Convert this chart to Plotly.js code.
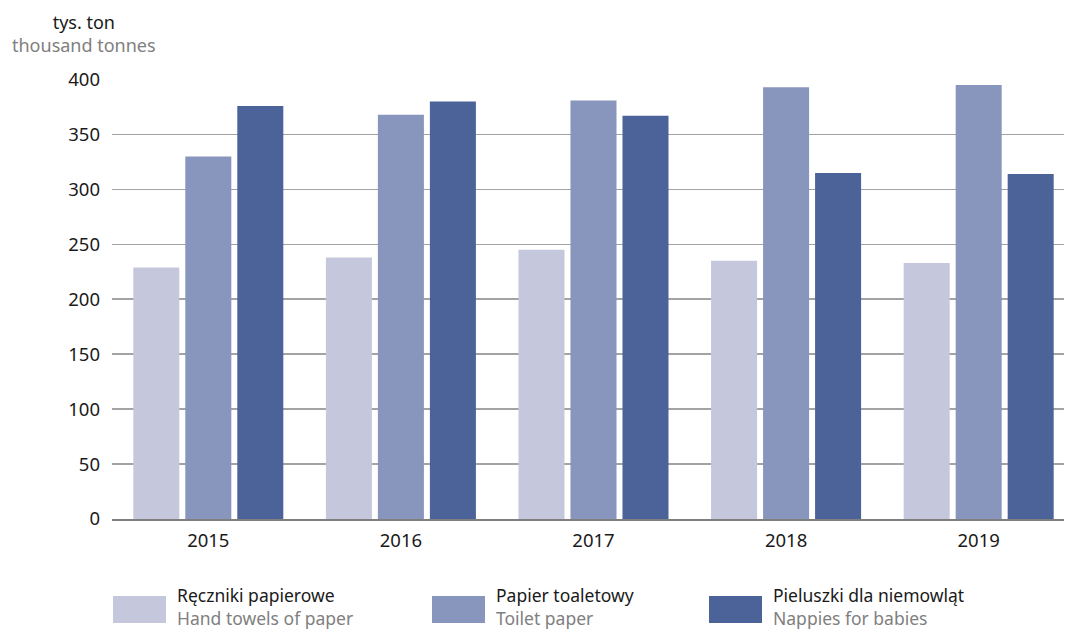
<!DOCTYPE html>
<html>
<head>
<meta charset="utf-8">
<script src="https://cdn.plot.ly/plotly-3.0.1.min.js"></script>
<style>html,body{margin:0;padding:0;background:#fff;}#chart{width:1072px;height:632px;}</style>
</head>
<body>
<div id="chart"></div>
<script>
const years = ['2015', '2016', '2017', '2018', '2019'];
const namesPl = ['Ręczniki papierowe', 'Papier toaletowy', 'Pieluszki dla niemowląt'];
const namesEn = ['Hand towels of paper', 'Toilet paper', 'Nappies for babies'];
const towels = [229, 238, 245, 235, 233];
const toilet = [330, 368, 381, 393, 395];
const nappies = [376, 380, 367, 315, 314];
const colors = ['#c5c8dc', '#8895bc', '#4b6399'];
const yTicks = [0, 50, 100, 150, 200, 250, 300, 350, 400];

const FONT = 'Noto Sans, Open Sans, sans-serif';
const series = [towels, toilet, nappies];
const traces = series.map((vals, i) => ({
  type: 'bar', x: years, y: vals, name: namesPl[i],
  marker: {color: colors[i]}, hoverinfo: 'skip'
}));

const legendX = [113, 432, 709];
const W = 1072, H = 632, L = 112, R = 8, T = 79, B = 113;
const pw = W - L - R, ph = H - T - B;
const px = v => (v - L) / pw;
const py = v => (H - B - v) / ph;
const shapes = [];
const annotations = [
  {xref: 'paper', yref: 'paper', x: px(84), y: py(33), xanchor: 'center', yanchor: 'middle',
   text: 'tys. ton<br><span style="color:#808080">thousand tonnes</span>', showarrow: false,
   font: {family: FONT, size: 18, color: '#1a1a1a'}}
];
legendX.forEach((lx, i) => {
  shapes.push({type: 'rect', xref: 'paper', yref: 'paper', x0: px(lx), x1: px(lx + 53),
    y0: py(623), y1: py(596), fillcolor: colors[i], line: {width: 0}});
  annotations.push({xref: 'paper', yref: 'paper', x: px(lx + 63), y: py(606), xanchor: 'left', yanchor: 'middle',
    align: 'left', borderpad: 0,
    text: namesPl[i] + '<br><span style="color:#808080">' + namesEn[i] + '</span>',
    showarrow: false, font: {family: FONT, size: 17.5, color: '#1a1a1a'}});
});

const layout = {
  width: W, height: H,
  margin: {l: L, r: R, t: T, b: B, pad: 0},
  paper_bgcolor: '#fff', plot_bgcolor: '#fff',
  barmode: 'group', bargap: 0.19, bargroupgap: 0.115,
  showlegend: false,
  font: {family: FONT, size: 18, color: '#1a1a1a'},
  xaxis: {type: 'category', range: [-0.5, 4.443], showgrid: false, zeroline: false, showline: true,
    linecolor: '#7f7f7f', linewidth: 1.5, ticks: '', ticklabelstandoff: 4,
    tickfont: {size: 18.5, color: '#1a1a1a'}, fixedrange: true},
  yaxis: {range: [0, 400.5], tickvals: yTicks, ticktext: yTicks.map(String), showgrid: true, gridcolor: '#a3a3a3',
    gridwidth: 1.6, zeroline: false, showline: false, ticks: '', ticklabelstandoff: 11,
    tickfont: {size: 18.5, color: '#1a1a1a'}, fixedrange: true},
  shapes: shapes, annotations: annotations
};
Plotly.newPlot('chart', traces, layout, {displayModeBar: false, staticPlot: true});
</script>
</body>
</html>
